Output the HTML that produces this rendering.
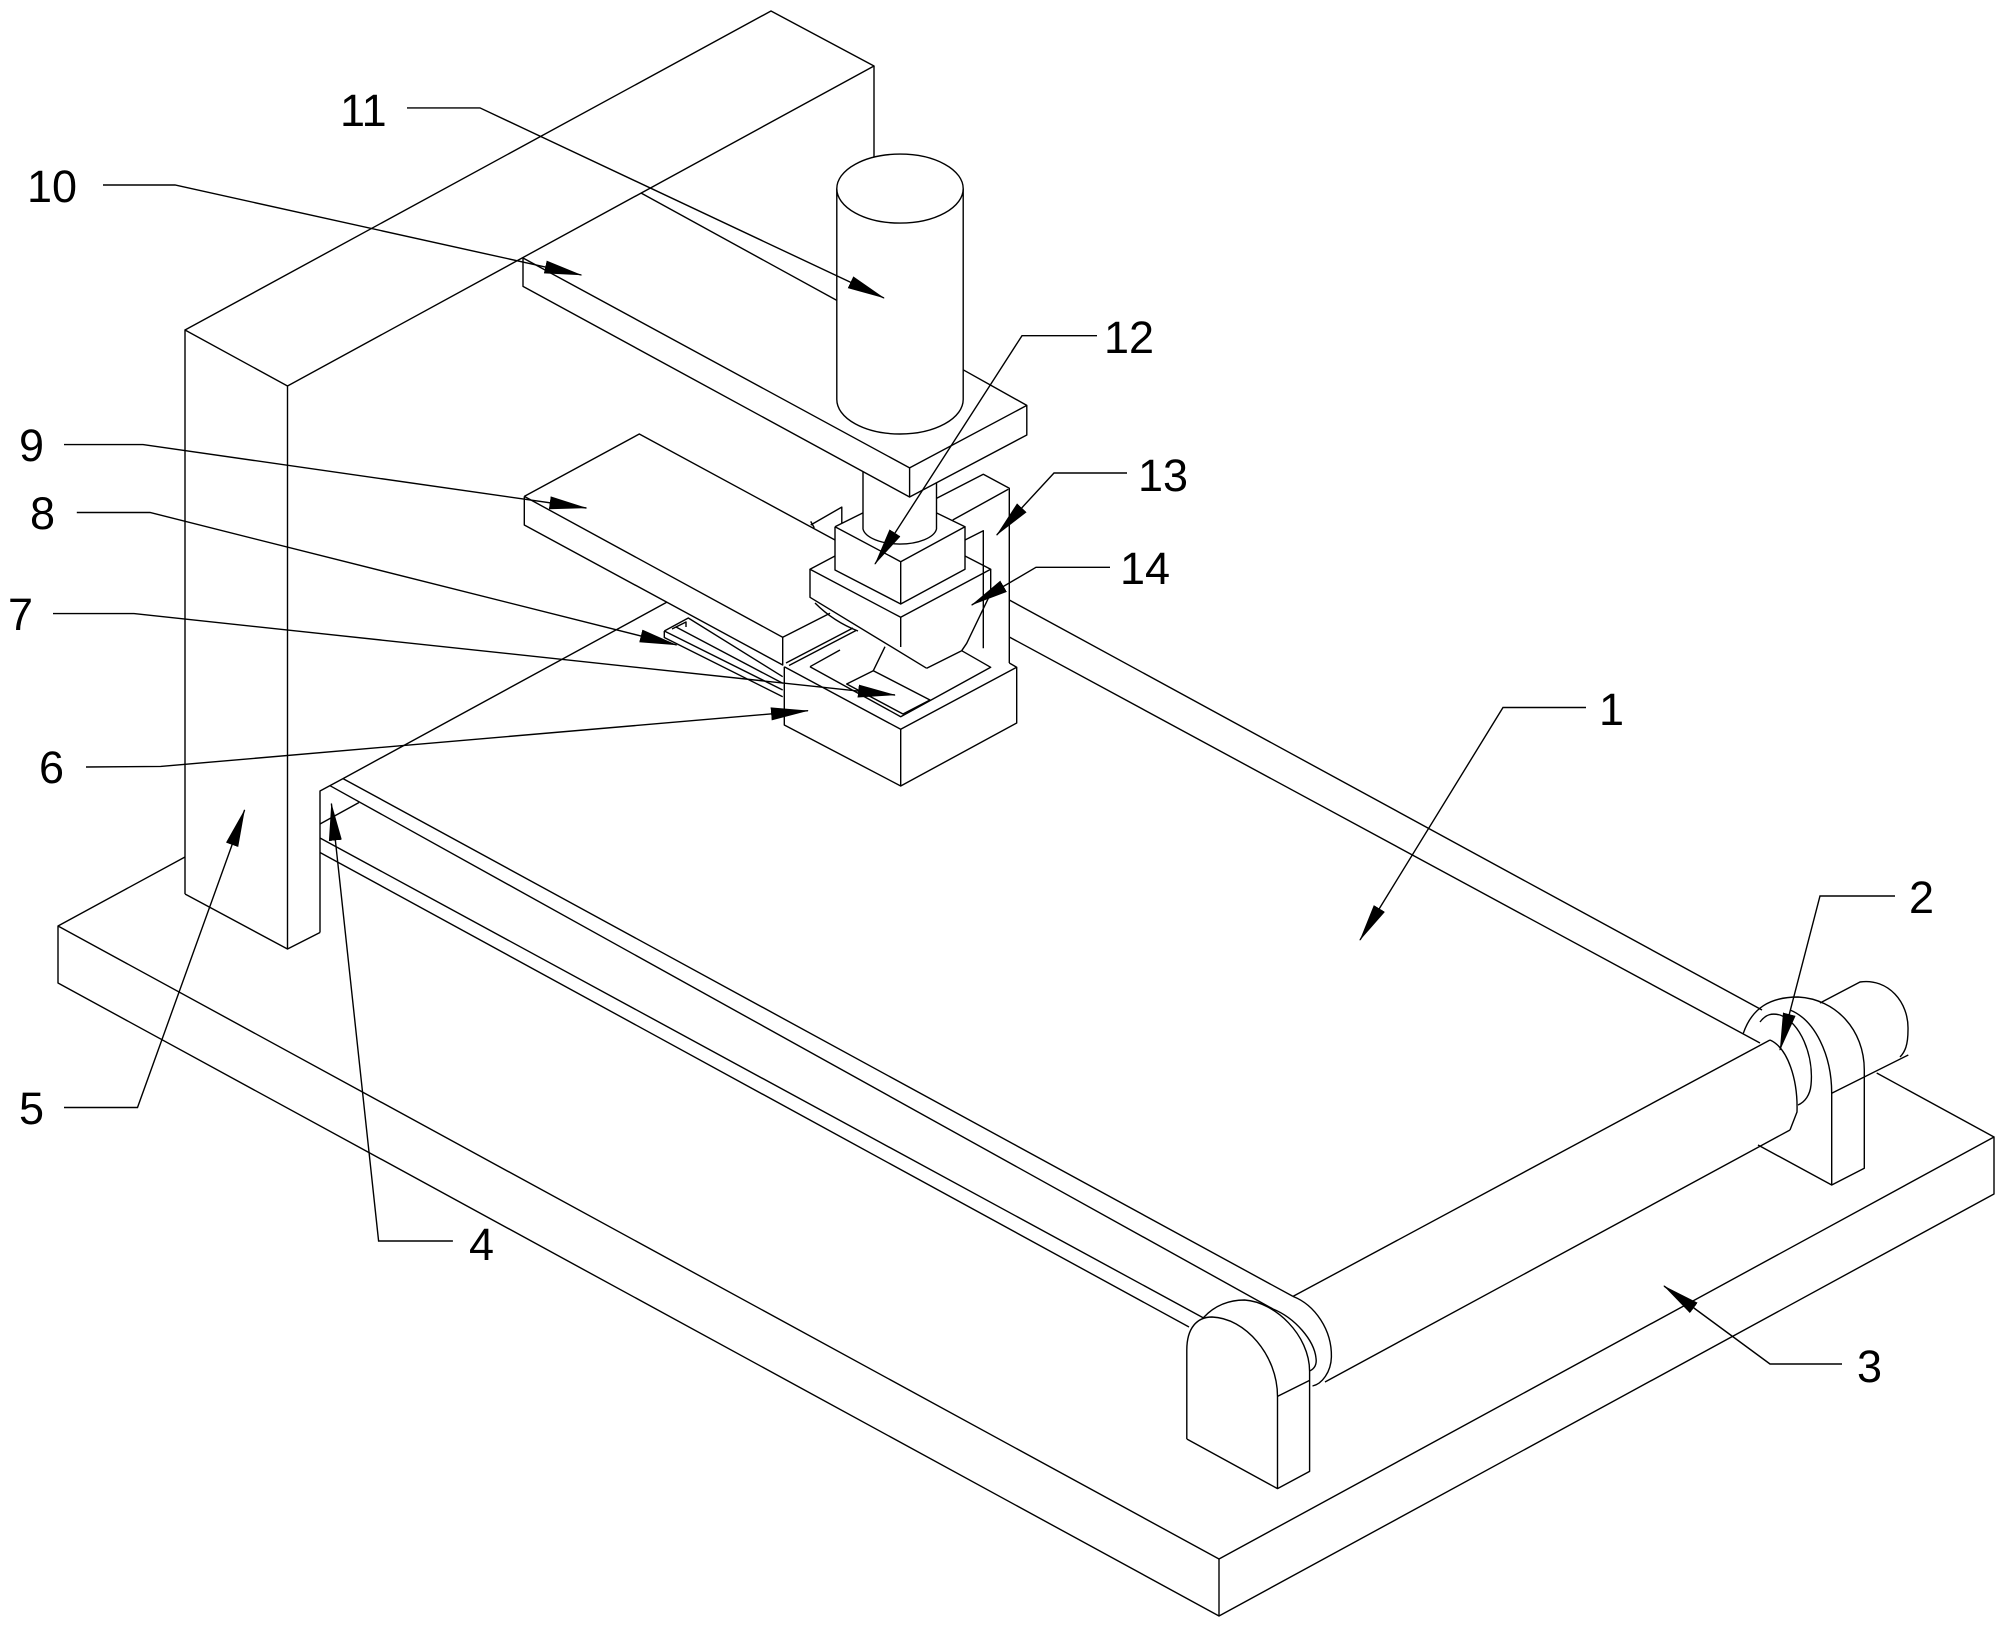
<!DOCTYPE html>
<html><head><meta charset="utf-8"><style>
html,body{margin:0;padding:0;background:#fff;}
svg{display:block;}
text{font-family:"Liberation Sans",Arial,sans-serif;font-size:45px;fill:#000;}
</style></head><body>
<svg width="2006" height="1627" viewBox="0 0 2006 1627" xmlns="http://www.w3.org/2000/svg">
<defs>
<marker id="a" viewBox="0 -7 38 14" refX="37" refY="0" markerWidth="38" markerHeight="14" markerUnits="userSpaceOnUse" orient="auto">
<path d="M0,-6.5 L38,0 L0,6.5 Z" fill="#000"/>
</marker>
</defs>
<rect width="2006" height="1627" fill="#fff"/>
<g stroke="#000" stroke-width="1.4" fill="none" stroke-linejoin="round">
<!-- gantry -->
<path d="M185,894 L185,330 L287.5,386 L287.5,949 L185,894"/>
<path d="M287.5,949 L320,932.5"/>
<path d="M185,330 L771,11 L874,66 L287.5,386"/>
<path d="M874,66 L874,157"/>
<!-- base plate -->
<path d="M185,857 L58,926 L58,983 L1219,1616 L1994,1194 L1994,1137 L1219,1559 L58,926"/>
<path d="M1219,1559 L1219,1616"/>
<path d="M1994,1137 L1876.7,1073"/>
<!-- conveyor -->
<path d="M666.7,602.3 L343,778.6 L320,791 L320,932.5"/>
<path d="M343,778.6 L1293,1296.4"/>
<path d="M330,785.7 L1273,1309"/>
<path d="M320,824 L359,802.5"/>
<path d="M320,838 L1203.6,1318"/>
<path d="M320,852.5 L1189,1327"/>
<path d="M1009.3,600 L1762,1010"/>
<path d="M1009.3,637 L1760,1043"/>
<path d="M1293,1296.4 L1770,1040"/>
<path d="M1325,1382 L1790,1130"/>
<!-- front pulley -->
<path d="M1292.9,1296.4 C1315,1305 1332,1330 1331.4,1357 C1331,1372 1322,1384 1312.5,1386"/>
<path d="M1273,1309 C1295,1318 1314,1340 1316,1358 C1317,1365 1314,1369 1309.6,1371"/>
<!-- front bracket -->
<path d="M1186.8,1439 L1186.8,1350 C1186.8,1328 1197,1317 1212,1317 C1245,1318 1277.5,1355 1277.5,1396.4 L1277.5,1488.6 L1186.8,1439"/>
<path d="M1203.6,1317.5 C1215,1305 1230,1300 1244.6,1300 C1275,1302 1309.6,1335 1309.6,1371.4 L1309.6,1471.4 L1277.5,1488.6"/>
<path d="M1277.5,1396.4 L1309.6,1380.4"/>
<!-- right bracket -->
<path d="M1758,1145 L1831.7,1185 L1864.3,1168.3 L1864.3,1070"/>
<path d="M1831.7,1185 L1831.7,1093.3 L1908.3,1055"/>
<path d="M1743.3,1033.3 C1752,1008 1770,997 1798,997 C1836,999 1864.3,1030 1864.3,1070"/>
<path d="M1790,1010 C1815,1020 1831.7,1055 1831.7,1093.3"/>
<path d="M1760,1022 C1766,1014 1772,1013 1780,1015 C1800,1022 1814,1055 1811,1085 C1810,1095 1805,1102 1798,1105"/>
<path d="M1770,1040 C1788,1048 1798,1080 1797,1112 L1790,1130"/>
<path d="M1820,1003 L1860,982 C1888,978 1909,1002 1908,1030 C1908,1045 1905,1052 1900,1057"/>
<!-- bar 10 -->
<path d="M523,258 L523,286.4 L909.6,497 L1026.8,435 L1026.8,405.4 L909.6,467.9 L523,258"/>
<path d="M909.6,467.9 L909.6,497"/>
<path d="M641,193 L836.8,300.4"/>
<path d="M963.2,369.8 L1026.8,405.4"/>
<!-- cylinder -->
<ellipse cx="900" cy="188.6" rx="63.2" ry="34.5"/>
<path d="M836.8,188.6 L836.8,399.5 A63.2,34.5 0 0 0 963.2,399.5 L963.2,188.6"/>
<!-- rod -->
<path d="M863,471.5 L863,529 A37,17 0 0 0 936.5,529 L936.5,482.7"/>
<!-- block 12 -->
<path d="M835,526.7 L835,570 L900.7,604 L965,569.3 L965,526.7 L900.7,561.7 L835,526.7"/>
<path d="M900.7,561.7 L900.7,604"/>
<path d="M835,526.7 L862.7,513"/>
<path d="M936.7,513 L965,526.7"/>
<!-- block 14 -->
<path d="M835,556 L810,569.3 L900.7,617.3 L990.7,569.3 L965,556"/>
<path d="M810,569.3 L810,597.3 L926.7,668.3"/>
<path d="M900.7,617.3 L900.7,647"/>
<path d="M990.7,569.3 L990.7,590 L988.3,598.3 L966.7,643.3 L961.7,650.7 L926.7,668.3"/>
<path d="M885,646.7 L873.3,670.7"/>
<path d="M815,603 C830,618 845,626 858,631"/>
<!-- bar 9 -->
<path d="M524.3,496.4 L639.3,434 L835,540"/>
<path d="M524.3,496.4 L782.7,637.3 L830,613.3"/>
<path d="M524.3,496.4 L524.3,525 L782.7,665 L782.7,637.3"/>
<path d="M810.7,525 L841.8,507.1 L841.8,523"/>
<path d="M810.7,521.4 L814.3,527.9"/>
<!-- slot 8 -->
<path d="M664.3,631 L664.3,637.5 L782.7,696.7"/>
<path d="M664.3,631 L782.7,690"/>
<path d="M664.3,631 L688.3,618 L782.7,676.7"/>
<path d="M672,629 L686,622 L686,627"/>
<path d="M676,627 L782.7,683.3"/>
<!-- die base 6 -->
<path d="M784.3,666.7 L784.3,725 L900.7,786 L1016.7,723 L1016.7,667.3 L900.7,729.3 L784.3,666.7"/>
<path d="M900.7,729.3 L900.7,786"/>
<path d="M1016.7,667.3 L1009.3,663"/>
<path d="M810,666.7 L900.7,716.7 L990.7,667.3 L961.7,650.7"/>
<path d="M810,666.7 L840,650"/>
<path d="M786,663 L853,628"/>
<path d="M789,665.5 L856,630.5"/>
<path d="M846.7,684 L873.3,670.7 L930,700 L903,714 Z"/>
<!-- bracket 13 -->
<path d="M936.7,498.3 L983.3,474.3 L1009.3,488.3 L1009.3,663"/>
<path d="M952.7,520 L1008.3,489.3"/>
<path d="M965,540 L983.3,530.7 L983.3,648.3"/>
</g>
<!-- leaders -->
<g stroke="#000" stroke-width="1.4" fill="none" marker-end="url(#a)">
<polyline points="1586,707.5 1503,707.5 1360,940"/>
<polyline points="1895,896 1820,896 1780,1050"/>
<polyline points="1842,1364 1770,1364 1664,1286"/>
<polyline points="452.9,1241 378.6,1241 331.4,803.6"/>
<polyline points="64,1107.5 137.5,1107.5 244.6,810"/>
<polyline points="86,767 160.7,766.4 808,710.7"/>
<polyline points="53,613.6 134,613.6 895,695"/>
<polyline points="76.8,512.5 150,512.5 676.7,645"/>
<polyline points="64,444.6 143,444.6 586.4,508"/>
<polyline points="103,185 175,185 581.4,275"/>
<polyline points="407,107.9 480,107.9 884,298"/>
<polyline points="1097,335.7 1022,335.7 875,564"/>
<polyline points="1127,473 1054,473 996.7,535"/>
<polyline points="1110,567.3 1036,567.3 971.7,605"/>
</g>
<!-- labels -->
<text x="340" y="126">11</text>
<text x="27" y="202">10</text>
<text x="19" y="461">9</text>
<text x="30" y="529">8</text>
<text x="8" y="630">7</text>
<text x="39" y="783">6</text>
<text x="19" y="1124">5</text>
<text x="469" y="1260">4</text>
<text x="1104" y="353">12</text>
<text x="1138" y="491">13</text>
<text x="1120" y="584">14</text>
<text x="1599" y="725">1</text>
<text x="1909" y="913">2</text>
<text x="1857" y="1382">3</text>
</svg>
</body></html>
